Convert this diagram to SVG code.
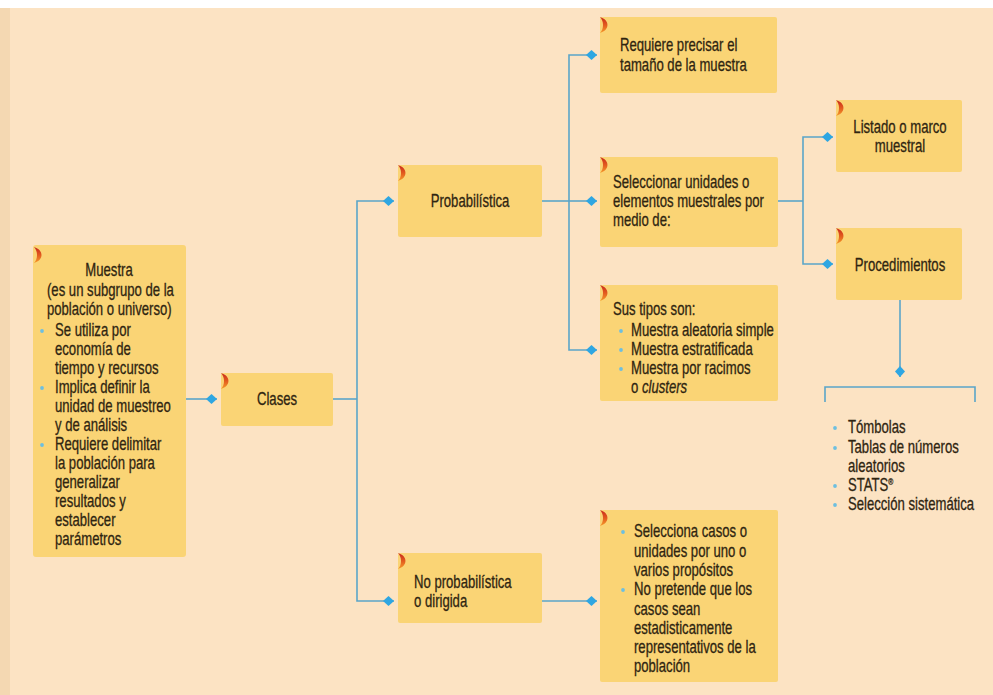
<svg xmlns="http://www.w3.org/2000/svg" width="993" height="695" viewBox="0 0 993 695">
  <defs>
    <style>
      .bg { fill: #fce3c3; }
      .box { fill: #fad475; }
      .t { font-family: "Liberation Sans", Arial, sans-serif; font-size: 17.5px; fill: #2f2511;
           stroke: #2f2511; stroke-width: 0.3;
           transform-box: fill-box; transform-origin: 0 50%; transform: scaleX(0.75); }
      .c { text-anchor: middle; transform-origin: 50% 50%; }
      .it { font-style: italic; }
      .wire { fill: none; stroke: #5aa5c9; stroke-width: 1.6; }
      .wire-end { fill: none; stroke: #5aa5c9; stroke-width: 1.6; marker-end: url(#diamond); }
      .dot { fill: #6dbfe0; }
    </style>
    <linearGradient id="tabGrad" x1="0" y1="0" x2="0" y2="1">
      <stop offset="0" stop-color="#c8281c"/>
      <stop offset="0.5" stop-color="#e25a1e"/>
      <stop offset="1" stop-color="#f59a2a"/>
    </linearGradient>
    <!-- crescent tab at each box's top-left corner -->
    <path id="tab" d="M0,0 C10,3 10,13 0,16 C4,12 4,4 0,0 Z" fill="url(#tabGrad)"/>
    <marker id="diamond" markerUnits="userSpaceOnUse" markerWidth="12" markerHeight="10" refX="11" refY="5" orient="auto" overflow="visible">
      <path d="M0,5 L5.5,0 L11,5 L5.5,10 Z" fill="#2ea6e2"/>
    </marker>
  </defs>

  <!-- page -->
  <rect class="bg" x="0" y="0" width="993" height="695"/>
  <rect x="0" y="0" width="10" height="695" fill="#f4d8b2"/>
  <rect x="0" y="0" width="993" height="8" fill="#ffffff"/>

  <!-- connectors -->
  <g id="connectors">
    <path class="wire-end" d="M185,399 H217"/>
    <path class="wire" d="M332,399 H357"/>
    <path class="wire-end" d="M357,399 V201 H394"/>
    <path class="wire-end" d="M357,399 V601 H394"/>
    <path class="wire" d="M542,201 H569"/>
    <path class="wire-end" d="M569,201 V55 H597"/>
    <path class="wire-end" d="M569,201 H597"/>
    <path class="wire-end" d="M569,201 V350 H597"/>
    <path class="wire-end" d="M542,601 H597"/>
    <path class="wire" d="M778,201 H803"/>
    <path class="wire-end" d="M803,201 V137 H833"/>
    <path class="wire-end" d="M803,201 V264 H833"/>
    <path class="wire-end" d="M900,300 V377"/>
    <path class="wire" d="M825,402 V387 H975 V402"/>
  </g>

  <g id="muestra">
    <rect class="box" x="33" y="245" width="153" height="312" rx="3"/>
    <use href="#tab" x="34" y="247"/>
    <text class="t c" x="109" y="276">Muestra</text>
    <text class="t" x="47" y="296">(es un subgrupo de la</text>
    <text class="t" x="47" y="315">población o universo)</text>
    <circle class="dot" cx="42" cy="331" r="1.9"/>
    <text class="t" x="55" y="336">Se utiliza por</text>
    <text class="t" x="55" y="355">economía de</text>
    <text class="t" x="55" y="374">tiempo y recursos</text>
    <circle class="dot" cx="42" cy="388" r="1.9"/>
    <text class="t" x="55" y="393">Implica definir la</text>
    <text class="t" x="55" y="412">unidad de muestreo</text>
    <text class="t" x="55" y="431">y de análisis</text>
    <circle class="dot" cx="42" cy="445" r="1.9"/>
    <text class="t" x="55" y="450">Requiere delimitar</text>
    <text class="t" x="55" y="469">la población para</text>
    <text class="t" x="55" y="488">generalizar</text>
    <text class="t" x="55" y="507">resultados y</text>
    <text class="t" x="55" y="526">establecer</text>
    <text class="t" x="55" y="545">parámetros</text>
  </g>

  <g id="clases">
    <rect class="box" x="221" y="373" width="112" height="53" rx="2"/>
    <use href="#tab" x="221" y="373"/>
    <text class="t c" x="277" y="405">Clases</text>
  </g>

  <g id="probabilistica">
    <rect class="box" x="398" y="165" width="144" height="72" rx="2"/>
    <use href="#tab" x="398" y="165"/>
    <text class="t c" x="470" y="207">Probabilística</text>
  </g>

  <g id="no-probabilistica">
    <rect class="box" x="398" y="553" width="144" height="70" rx="2"/>
    <use href="#tab" x="398" y="553"/>
    <text class="t" x="414" y="588">No probabilística</text>
    <text class="t" x="414" y="607">o dirigida</text>
  </g>

  <g id="tamano">
    <rect class="box" x="600" y="17" width="177" height="76" rx="2"/>
    <use href="#tab" x="600" y="17"/>
    <text class="t" x="620" y="51">Requiere precisar el</text>
    <text class="t" x="620" y="71">tamaño de la muestra</text>
  </g>

  <g id="seleccionar">
    <rect class="box" x="600" y="157" width="178" height="90" rx="2"/>
    <use href="#tab" x="600" y="157"/>
    <text class="t" x="613" y="188">Seleccionar unidades o</text>
    <text class="t" x="613" y="207">elementos muestrales por</text>
    <text class="t" x="613" y="226">medio de:</text>
  </g>

  <g id="tipos">
    <rect class="box" x="600" y="285" width="178" height="116" rx="2"/>
    <use href="#tab" x="600" y="285"/>
    <text class="t" x="613" y="315">Sus tipos son:</text>
    <circle class="dot" cx="621" cy="331" r="1.9"/>
    <text class="t" x="631" y="336">Muestra aleatoria simple</text>
    <circle class="dot" cx="621" cy="350" r="1.9"/>
    <text class="t" x="631" y="355">Muestra estratificada</text>
    <circle class="dot" cx="621" cy="369" r="1.9"/>
    <text class="t" x="631" y="374">Muestra por racimos</text>
    <text class="t" x="631" y="393">o <tspan class="it">clusters</tspan></text>
  </g>

  <g id="dirigida">
    <rect class="box" x="600" y="510" width="178" height="172" rx="2"/>
    <use href="#tab" x="600" y="510"/>
    <circle class="dot" cx="623" cy="532" r="1.9"/>
    <text class="t" x="634" y="537">Selecciona casos o</text>
    <text class="t" x="634" y="557">unidades por uno o</text>
    <text class="t" x="634" y="576">varios propósitos</text>
    <circle class="dot" cx="623" cy="590" r="1.9"/>
    <text class="t" x="634" y="595">No pretende que los</text>
    <text class="t" x="634" y="615">casos sean</text>
    <text class="t" x="634" y="634">estadisticamente</text>
    <text class="t" x="634" y="653">representativos de la</text>
    <text class="t" x="634" y="672">población</text>
  </g>

  <g id="listado">
    <rect class="box" x="836" y="100" width="126" height="72" rx="2"/>
    <use href="#tab" x="836" y="100"/>
    <text class="t c" x="900" y="133">Listado o marco</text>
    <text class="t c" x="900" y="152">muestral</text>
  </g>

  <g id="procedimientos">
    <rect class="box" x="836" y="228" width="126" height="72" rx="2"/>
    <use href="#tab" x="836" y="228"/>
    <text class="t c" x="900" y="271">Procedimientos</text>
  </g>

  <g id="herramientas">
    <circle class="dot" cx="835" cy="428" r="1.9"/>
    <text class="t" x="848" y="433">Tómbolas</text>
    <circle class="dot" cx="835" cy="448" r="1.9"/>
    <text class="t" x="848" y="453">Tablas de números</text>
    <text class="t" x="848" y="472">aleatorios</text>
    <circle class="dot" cx="835" cy="486" r="1.9"/>
    <text class="t" x="848" y="491">STATS<tspan font-size="9" dy="-6">®</tspan></text>
    <circle class="dot" cx="835" cy="505" r="1.9"/>
    <text class="t" x="848" y="510">Selección sistemática</text>
  </g>
</svg>
